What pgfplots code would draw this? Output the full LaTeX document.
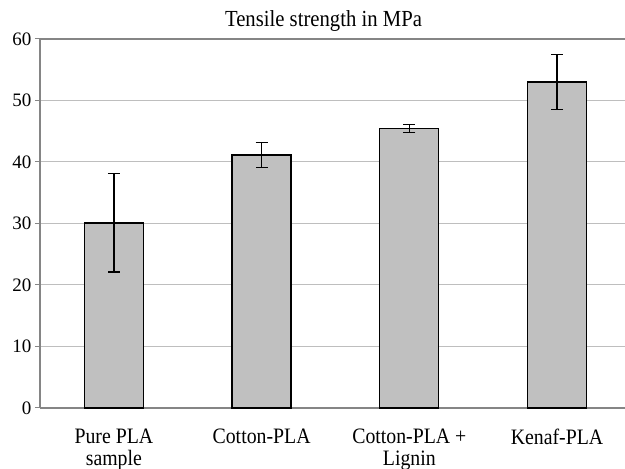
\documentclass[border=0pt]{standalone}
\usepackage{fontspec}
\setmainfont{Liberation Serif}
\newfontfamily\labelfont[FakeStretch=0.9]{Liberation Serif}
\usepackage{pgfplots}
\pgfplotsset{compat=1.18}

\definecolor{barfill}{HTML}{C0C0C0}
\definecolor{gridgray}{HTML}{BEBEBE}
\definecolor{axisgray}{HTML}{858585}

\begin{document}
\begin{tikzpicture}
\begin{axis}[
    name=ax,
    scale only axis,
    width=585pt,
    height=369pt,
    ybar,
    bar width=59pt,
    xmin=-0.5, xmax=3.46,
    ymin=0, ymax=60,
    ytick={0,10,...,60},
    xtick={0,1,2,3},
    xticklabels={Pure PLA\\sample, Cotton-PLA, Cotton-PLA +\\Lignin, Kenaf-PLA},
    x tick label style={align=center, yshift=-12pt,
        font=\labelfont\fontsize{22}{22}\selectfont},
    y tick label style={font=\fontsize{19}{22}\selectfont},
    /pgf/number format/assume math mode=true,
    axis x line*=bottom,
    axis y line*=left,
    axis line style={axisgray, line width=1.2pt},
    ymajorgrids,
    grid style={gridgray, line width=1pt},
    tick align=outside,
    major tick length=5pt,
    xtick style={draw=none},
    ytick style={axisgray, line width=1pt},
    extra x ticks={0.5,1.5,2.5},
    extra x tick labels={},
    extra x tick style={grid=none, xtick style={axisgray, line width=1pt}, major tick length=5pt},
    clip=false,
]
\addplot[fill=barfill, draw=black, line width=1.3pt,
    error bars/.cd, y dir=both, y explicit,
    error bar style={black, line width=1.3pt},
    error mark options={black, rotate=90, mark size=6pt, line width=1.3pt}]
    coordinates {
        (0,30.1) +- (0,8.0)
        (1,41.15) +- (0,2.05)
        (2,45.4) +- (0,0.65)
        (3,53.0) +- (0,4.45)
    };
\draw[axisgray, line width=1.8pt] (rel axis cs:0,1) -- (rel axis cs:1,1);
\end{axis}
\node[anchor=base, font=\labelfont\fontsize{23}{25}\selectfont, inner sep=0pt]
    at ([xshift=-9pt, yshift=12pt]ax.north) {Tensile strength in MPa};
\pgfresetboundingbox
\path ([xshift=-40pt, yshift=-61pt]ax.south west) rectangle ([yshift=39pt]ax.north east);
\end{tikzpicture}
\end{document}
